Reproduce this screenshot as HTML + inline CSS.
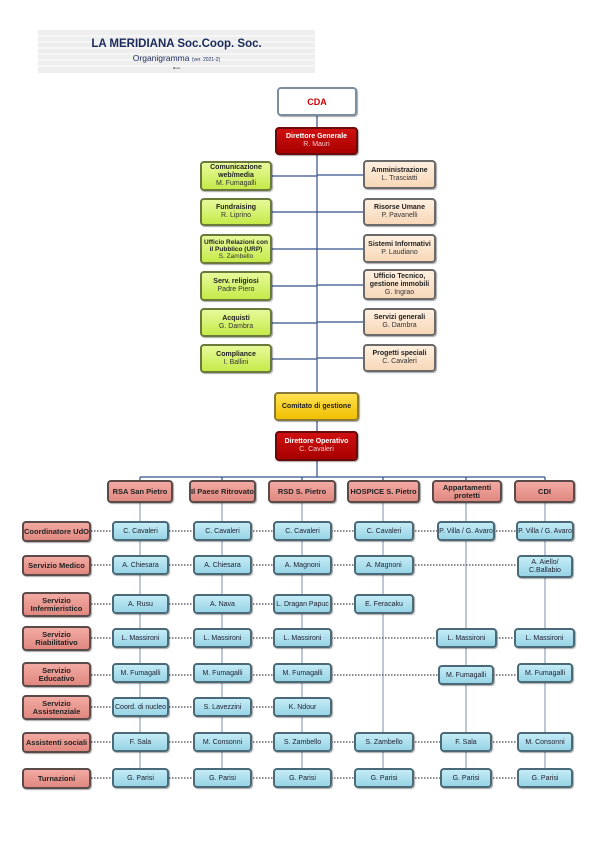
<!DOCTYPE html>
<html><head><meta charset="utf-8"><style>
body{margin:0;width:604px;height:850px;background:#fff;position:relative;overflow:hidden;font-family:"Liberation Sans",Arial,sans-serif}
.b{position:absolute;box-sizing:border-box;border-radius:4px;display:flex;flex-direction:column;align-items:center;justify-content:center;text-align:center;font-size:7px;line-height:8px;box-shadow:1px 1px 1px rgba(0,0,0,.35)}
.red{background:linear-gradient(#d01010,#a80000);border:2px solid #6a0a0a;color:#fff;font-weight:bold}
.red span{font-weight:normal;color:#f6c8c8}
.g{background:linear-gradient(#e6fa9a,#c6ea4a);border:2px solid #6a7a3a;color:#222;font-weight:bold;left:200px;width:72px}
.p{background:linear-gradient(#fff0e0,#f8d8b8);border:2px solid #6a6a6a;color:#222;font-weight:bold;left:363px;width:73px}
.g span,.p span{font-weight:normal;color:#333}
.h{background:linear-gradient(#f2aaa2,#e08880);border:2px solid #5a4a4a;color:#222;font-weight:bold;font-size:7.5px;top:480px;height:23px}
.l{background:linear-gradient(#f2aaa2,#e08880);border:2px solid #5a4a4a;color:#222;font-weight:bold;font-size:7.5px;left:22px;width:69px;height:21px}
.c{background:linear-gradient(#c4ecf6,#98d4e6);border:2px solid #4a6a78;color:#223;font-size:7px;height:20px;padding-top:1px}
</style></head><body>
<svg width="604" height="850" style="position:absolute;left:0;top:0">
<rect x="38" y="30" width="277" height="43" fill="#eeeeee"/>
<g stroke="#fff" stroke-width="1"><line x1="38" y1="36" x2="315" y2="36"/><line x1="38" y1="42" x2="315" y2="42"/><line x1="38" y1="48" x2="315" y2="48"/><line x1="38" y1="54" x2="315" y2="54"/><line x1="38" y1="60" x2="315" y2="60"/><line x1="38" y1="66" x2="315" y2="66"/></g>
<g stroke="#34508a" stroke-width="1.2" fill="none">
<line x1="317" y1="116" x2="317" y2="477"/>
<line x1="272" y1="176" x2="317" y2="176"/><line x1="317" y1="175" x2="363" y2="175"/>
<line x1="272" y1="212" x2="317" y2="212"/><line x1="317" y1="212" x2="363" y2="212"/>
<line x1="272" y1="249" x2="317" y2="249"/><line x1="317" y1="249" x2="363" y2="249"/>
<line x1="272" y1="286" x2="317" y2="286"/><line x1="317" y1="285" x2="363" y2="285"/>
<line x1="272" y1="323" x2="317" y2="323"/><line x1="317" y1="322" x2="363" y2="322"/>
<line x1="272" y1="359" x2="317" y2="359"/><line x1="317" y1="358" x2="363" y2="358"/>
<line x1="140" y1="477" x2="545" y2="477"/>
<line x1="140" y1="477" x2="140" y2="481"/><line x1="222" y1="477" x2="222" y2="481"/><line x1="302" y1="477" x2="302" y2="481"/><line x1="383" y1="477" x2="383" y2="481"/><line x1="466" y1="477" x2="466" y2="481"/><line x1="545" y1="477" x2="545" y2="481"/>
</g>
<g stroke="#90a4bc" stroke-width="1.2">
<line x1="140" y1="503" x2="140" y2="775"/><line x1="222" y1="503" x2="222" y2="775"/><line x1="302" y1="503" x2="302" y2="775"/><line x1="383" y1="503" x2="383" y2="775"/><line x1="466" y1="503" x2="466" y2="775"/><line x1="545" y1="503" x2="545" y2="775"/>
</g>
<g stroke="#445" stroke-width="1.2" stroke-dasharray="1.5,1.5">
<line x1="91" y1="531" x2="520" y2="531"/>
<line x1="91" y1="565" x2="520" y2="565"/>
<line x1="91" y1="604" x2="360" y2="604"/>
<line x1="91" y1="638" x2="520" y2="638"/>
<line x1="91" y1="675" x2="520" y2="675"/>
<line x1="91" y1="707" x2="280" y2="707"/>
<line x1="91" y1="742" x2="520" y2="742"/>
<line x1="91" y1="778" x2="520" y2="778"/>
</g>
</svg>
<div style="position:absolute;left:38px;top:38px;width:277px;text-align:center;font-weight:bold;font-size:11.5px;color:#1a2a5a">LA MERIDIANA Soc.Coop. Soc.</div>
<div style="position:absolute;left:38px;top:53px;width:277px;text-align:center;font-size:8.5px;color:#1a2a5a">Organigramma <span style="font-size:5px">(ver. 2021-2)</span></div>
<div style="position:absolute;left:38px;top:66px;width:277px;text-align:center;font-size:3px;color:#333">Menu</div>

<div class="b" style="left:277px;top:87px;width:80px;height:29px;background:#fff;border:2px solid #7a8ea0;color:#c00;font-weight:bold;font-size:9px">CDA</div>
<div class="b red" style="left:275px;top:127px;width:83px;height:28px">Direttore Generale<span>R. Mauri</span></div>

<div class="b g" style="top:161px;height:30px">Comunicazione<br>web/media<span>M. Fumagalli</span></div>
<div class="b g" style="top:198px;height:28px">Fundraising<span>R. Liprino</span></div>
<div class="b g" style="top:234px;height:30px;font-size:6.5px;line-height:7px">Ufficio Relazioni con il Pubblico (URP)<span>S. Zambello</span></div>
<div class="b g" style="top:271px;height:30px">Serv. religiosi<span>Padre Piero</span></div>
<div class="b g" style="top:308px;height:29px">Acquisti<span>G. Dambra</span></div>
<div class="b g" style="top:344px;height:29px">Compliance<span>I. Ballini</span></div>

<div class="b p" style="top:160px;height:29px">Amministrazione<span>L. Trasciatti</span></div>
<div class="b p" style="top:198px;height:28px">Risorse Umane<span>P. Pavanelli</span></div>
<div class="b p" style="top:234px;height:29px">Sistemi Informativi<span>P. Laudiano</span></div>
<div class="b p" style="top:269px;height:31px">Ufficio Tecnico,<br>gestione immobili<span>G. Ingrao</span></div>
<div class="b p" style="top:308px;height:28px">Servizi generali<span>G. Dambra</span></div>
<div class="b p" style="top:344px;height:28px">Progetti speciali<span>C. Cavaleri</span></div>

<div class="b" style="left:274px;top:392px;width:85px;height:29px;background:linear-gradient(#ffe050,#f0c000);border:2px solid #8a7a3a;font-weight:bold;color:#222">Comitato di gestione</div>
<div class="b red" style="left:275px;top:431px;width:83px;height:30px">Direttore Operativo<span>C. Cavaleri</span></div>

<div class="b h" style="left:107px;width:66px">RSA San Pietro</div>
<div class="b h" style="left:189px;width:67px">Il Paese Ritrovato</div>
<div class="b h" style="left:268px;width:68px">RSD S. Pietro</div>
<div class="b h" style="left:347px;width:73px">HOSPICE S. Pietro</div>
<div class="b h" style="left:432px;width:70px">Appartamenti<br>protetti</div>
<div class="b h" style="left:514px;width:61px">CDI</div>

<div class="b l" style="top:521px">Coordinatore UdO</div>
<div class="b l" style="top:555px">Servizio Medico</div>
<div class="b l" style="top:592px;height:25px">Servizio<br>Infermieristico</div>
<div class="b l" style="top:626px;height:25px">Servizio<br>Riabilitativo</div>
<div class="b l" style="top:662px;height:25px">Servizio<br>Educativo</div>
<div class="b l" style="top:695px;height:25px">Servizio<br>Assistenziale</div>
<div class="b l" style="top:732px">Assistenti sociali</div>
<div class="b l" style="top:768px">Turnazioni</div>

<div class="b c" style="left:112px;top:521px;width:57px">C. Cavaleri</div>
<div class="b c" style="left:193px;top:521px;width:59px">C. Cavaleri</div>
<div class="b c" style="left:273px;top:521px;width:59px">C. Cavaleri</div>
<div class="b c" style="left:354px;top:521px;width:60px">C. Cavaleri</div>
<div class="b c" style="left:437px;top:521px;width:58px">P. Villa / G. Avaro</div>
<div class="b c" style="left:516px;top:521px;width:58px">P. Villa / G. Avaro</div>

<div class="b c" style="left:112px;top:555px;width:57px">A. Chiesara</div>
<div class="b c" style="left:193px;top:555px;width:59px">A. Chiesara</div>
<div class="b c" style="left:273px;top:555px;width:59px">A. Magnoni</div>
<div class="b c" style="left:354px;top:555px;width:60px">A. Magnoni</div>
<div class="b c" style="left:517px;top:555px;width:56px;height:23px">A. Aiello/<br>C.Ballabio</div>

<div class="b c" style="left:112px;top:594px;width:57px">A. Rusu</div>
<div class="b c" style="left:193px;top:594px;width:59px">A. Nava</div>
<div class="b c" style="left:273px;top:594px;width:59px">L. Dragan Papuc</div>
<div class="b c" style="left:354px;top:594px;width:60px">E. Feracaku</div>

<div class="b c" style="left:112px;top:628px;width:57px">L. Massironi</div>
<div class="b c" style="left:193px;top:628px;width:59px">L. Massironi</div>
<div class="b c" style="left:273px;top:628px;width:59px">L. Massironi</div>
<div class="b c" style="left:436px;top:628px;width:61px">L. Massironi</div>
<div class="b c" style="left:514px;top:628px;width:61px">L. Massironi</div>

<div class="b c" style="left:112px;top:663px;width:57px">M. Fumagalli</div>
<div class="b c" style="left:193px;top:663px;width:59px">M. Fumagalli</div>
<div class="b c" style="left:273px;top:663px;width:59px">M. Fumagalli</div>
<div class="b c" style="left:438px;top:665px;width:56px">M. Fumagalli</div>
<div class="b c" style="left:517px;top:663px;width:56px">M. Fumagalli</div>

<div class="b c" style="left:112px;top:697px;width:57px">Coord. di nucleo</div>
<div class="b c" style="left:193px;top:697px;width:59px">S. Lavezzini</div>
<div class="b c" style="left:273px;top:697px;width:59px">K. Ndour</div>

<div class="b c" style="left:112px;top:732px;width:57px">F. Sala</div>
<div class="b c" style="left:193px;top:732px;width:59px">M. Consonni</div>
<div class="b c" style="left:273px;top:732px;width:59px">S. Zambello</div>
<div class="b c" style="left:354px;top:732px;width:60px">S. Zambello</div>
<div class="b c" style="left:440px;top:732px;width:52px">F. Sala</div>
<div class="b c" style="left:517px;top:732px;width:56px">M. Consonni</div>

<div class="b c" style="left:112px;top:768px;width:57px">G. Parisi</div>
<div class="b c" style="left:193px;top:768px;width:59px">G. Parisi</div>
<div class="b c" style="left:273px;top:768px;width:59px">G. Parisi</div>
<div class="b c" style="left:354px;top:768px;width:60px">G. Parisi</div>
<div class="b c" style="left:440px;top:768px;width:52px">G. Parisi</div>
<div class="b c" style="left:517px;top:768px;width:56px">G. Parisi</div>
</body></html>
